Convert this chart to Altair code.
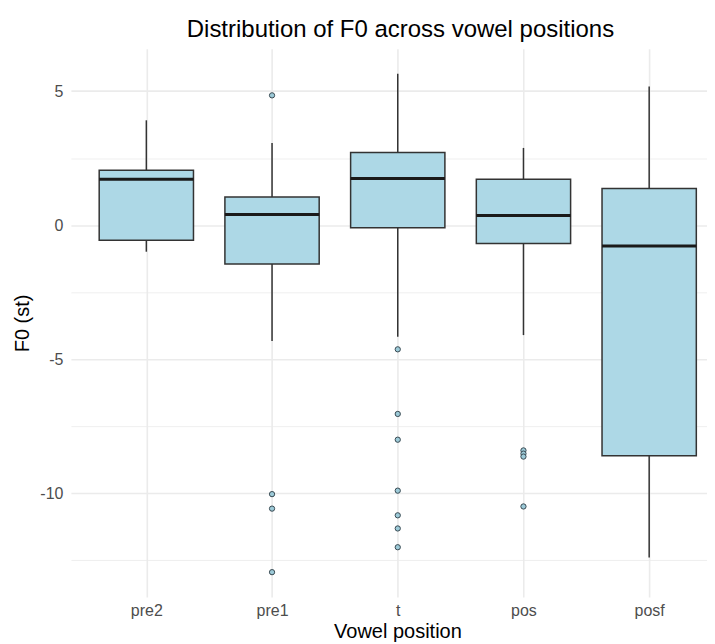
import json
import altair as alt
import pandas as pd

# ---- data ----
positions = ["pre2", "pre1", "t", "pos", "posf"]
whisker_low = [-0.99, -4.32, -4.16, -4.10, -12.39]
q1 = [-0.56, -1.45, -0.10, -0.68, -8.60]
median = [1.71, 0.40, 1.74, 0.36, -0.78]
q3 = [2.05, 1.05, 2.71, 1.71, 1.37]
whisker_high = [3.91, 3.06, 5.65, 2.88, 5.17]

outlier_pos = ["pre1", "pre1", "pre1", "pre1",
               "t", "t", "t", "t", "t", "t", "t",
               "pos", "pos", "pos", "pos"]
outlier_val = [4.84, -10.03, -10.57, -12.94,
               -4.63, -7.04, -8.00, -9.90, -10.82, -11.31, -12.01,
               -8.40, -8.52, -8.63, -10.49]

y_ticks = [-12.5, -10, -7.5, -5, -2.5, 0, 2.5, 5]

# ---- tables ----
index_of = {p: i + 1 for i, p in enumerate(positions)}
box_df = pd.DataFrame({
    "position": positions,
    "idx": [index_of[p] for p in positions],
    "lo": whisker_low, "q1": q1, "med": median, "q3": q3, "hi": whisker_high,
})
out_df = pd.DataFrame({
    "position": outlier_pos,
    "idx": [index_of[p] for p in outlier_pos],
    "val": outlier_val,
})

FONT = "Liberation Sans"
GRID = "#EBEBEB"

x_scale = alt.Scale(domain=[0.4, 5.46], nice=False, zero=False)
y_scale = alt.Scale(domain=[-13.87, 6.58], nice=False, zero=False)

x_axis = alt.Axis(
    title="Vowel position",
    values=[1, 2, 3, 4, 5],
    labelExpr=json.dumps(positions) + "[datum.value - 1]",
    grid=True, gridColor=GRID, gridWidth=1.6,
    domain=False, ticks=False,
    labelFont=FONT, labelFontSize=16, labelColor="#4D4D4D", labelPadding=5,
    titleFont=FONT, titleFontSize=20, titleColor="#000000", titleFontWeight="normal",
    titleX=327, titleY=40, titleBaseline="alphabetic", titleAlign="center",
)
y_axis = alt.Axis(
    title="F0 (st)",
    values=y_ticks,
    labelExpr="datum.value % 5 == 0 ? toString(datum.value) : ''",
    grid=True, gridColor=GRID,
    gridWidth={"condition": {"test": "datum.value % 5 == 0", "value": 1.6}, "value": 0.8},
    domain=False, ticks=False,
    labelFont=FONT, labelFontSize=16, labelColor="#4D4D4D", labelPadding=8,
    titleFont=FONT, titleFontSize=20, titleColor="#000000", titleFontWeight="normal",
    titleX=-48, titleBaseline="middle", titleAlign="center",
)

base = alt.Chart(box_df).transform_calculate(
    left="datum.idx - 0.375", right="datum.idx + 0.375"
)

whisk_up = base.mark_rule(color="#333333", strokeWidth=1.5).encode(
    x=alt.X("idx:Q", scale=x_scale, axis=x_axis),
    y=alt.Y("q3:Q", scale=y_scale, axis=y_axis),
    y2="hi:Q",
)
whisk_down = base.mark_rule(color="#333333", strokeWidth=1.5).encode(
    x=alt.X("idx:Q", scale=x_scale, axis=x_axis),
    y=alt.Y("lo:Q", scale=y_scale, axis=y_axis),
    y2="q1:Q",
)
boxes = base.mark_bar(fill="#ADD8E6", stroke="#333333", strokeWidth=1.5, opacity=1).encode(
    x=alt.X("left:Q", scale=x_scale, axis=x_axis),
    x2="right:Q",
    y=alt.Y("q1:Q", scale=y_scale, axis=y_axis),
    y2="q3:Q",
)
medians = base.mark_rule(color="#1A1A1A", strokeWidth=3).encode(
    x=alt.X("left:Q", scale=x_scale, axis=x_axis),
    x2="right:Q",
    y=alt.Y("med:Q", scale=y_scale, axis=y_axis),
)
outliers = alt.Chart(out_df).mark_point(
    shape="circle", filled=True, fill="#9CCAD8", stroke="#3A4A52",
    strokeWidth=1, size=28, opacity=1,
).encode(
    x=alt.X("idx:Q", scale=x_scale, axis=x_axis),
    y=alt.Y("val:Q", scale=y_scale, axis=y_axis),
)

chart = alt.layer(whisk_up, whisk_down, boxes, medians, outliers).properties(
    width=637,
    height=549.2,
    title=alt.TitleParams(
        text="Distribution of F0 across vowel positions",
        font=FONT, fontSize=24, fontWeight="normal", color="#000000",
        anchor="middle", dx=11.5, dy=24, offset=11.6, baseline="alphabetic",
    ),
    autosize=alt.AutoSizeParams(type="none"),
    padding={"left": 63, "top": 40.3, "right": 0, "bottom": 46.5},
    background="#FFFFFF",
).configure_view(stroke=None)

chart.save("out.html", embed_options={"renderer": "svg", "actions": False})
